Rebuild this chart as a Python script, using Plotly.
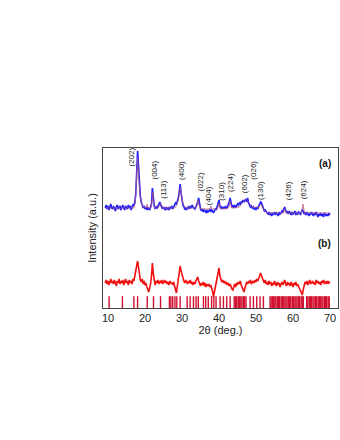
import plotly.graph_objects as go

# ---------------- data ----------------
two_theta_start = 9.25
two_theta_step = 0.25

# observed pattern (a), 9.25 .. 70.0 deg, 0.25 deg steps
obs = [
    100, 103, 99, 102, 98, 101, 104, 100,
    99, 102, 100, 97, 101, 103, 99, 101,
    102, 98, 100, 103, 100, 98, 102, 101,
    99, 103, 100, 102, 98, 101, 103, 102,
    106, 114, 135, 157, 142, 122, 111, 106,
    103, 100, 102, 99, 101, 98, 100, 99,
    98, 101, 104, 120, 108, 102, 99, 101,
    100, 102, 104, 106, 103, 100, 99, 101,
    100, 98, 101, 99, 100, 98, 101, 100,
    102, 99, 101, 103, 105, 104, 107, 110,
    116, 124, 115, 107, 103, 101, 99, 100,
    98, 100, 101, 99, 102, 100, 103, 101,
    100, 99, 101, 103, 106, 110, 103, 99,
    97, 99, 96, 98, 97, 95, 98, 96,
    97, 99, 96, 98, 97, 95, 97, 99,
    98, 101, 104, 108, 102, 100, 101, 99,
    101, 99, 102, 100, 101, 103, 106, 110,
    104, 101, 102, 100, 103, 101, 102, 104,
    103, 105, 104, 106, 105, 108, 106, 107,
    109, 106, 110, 105, 103, 101, 102, 100,
    101, 99, 100, 98, 101, 99, 102, 104,
    106, 105, 102, 99, 97, 98, 96, 95,
    94, 96, 93, 95, 92, 95, 94, 96,
    93, 95, 94, 92, 96, 94, 95, 97,
    96, 98, 101, 98, 95, 96, 94, 97,
    95, 93, 96, 94, 95, 97, 93, 95,
    94, 96, 95, 93, 96, 98, 97, 94,
    95, 93, 96, 94, 92, 95, 93, 96,
    94, 92, 95, 93, 96, 94, 91, 94,
    93, 95, 92, 94, 91, 95, 93, 92,
    94, 92, 95, 93,
]

# calculated profile (a)
calc_x = [9.25, 17.0, 17.4, 17.7, 18.0, 18.3, 18.6, 19.0, 19.5, 20.3,
          20.6, 20.9, 21.6, 21.9, 22.1, 22.3, 22.6, 23.6, 24.0, 24.2,
          24.4, 24.8, 28.0, 28.6, 29.0, 29.3, 29.6, 29.9, 30.3, 31.0,
          33.8, 34.2, 34.4, 34.6, 35.0, 37.5, 37.8, 38.1, 39.6, 40.0,
          40.4, 42.6, 43.0, 43.4, 45.5, 46.5, 47.2, 48.0, 48.8, 50.6,
          51.3, 52.0, 53.0, 57.4, 57.8, 58.2, 62.3, 62.7, 63.1, 70.0]
calc_y = [100, 100, 106, 125, 150, 132, 114, 105, 101, 100,
          104, 100, 100, 108, 116, 107, 100, 100, 104, 105,
          104, 100, 100, 103, 108, 115, 121, 112, 104, 100,
          100, 104, 108, 103, 99, 99, 102, 99, 99, 105,
          99, 100, 107, 100, 101, 106, 109, 106, 101, 100,
          104, 99, 95, 95, 99, 95, 95, 104, 95, 95]

# difference pattern (b), same grid as obs
diff = [
    25, 28, 24, 27, 23, 26, 29, 25,
    27, 24, 28, 25, 22, 27, 25, 29,
    24, 27, 25, 28, 23, 26, 29, 25,
    27, 23, 28, 25, 27, 24, 29, 27,
    31, 36, 42, 47, 40, 33, 28, 26,
    29, 24, 27, 23, 25, 21, 18, 16,
    20, 24, 32, 45, 34, 26, 23, 27,
    25, 28, 24, 27, 25, 28, 24, 26,
    28, 25, 27, 24, 26, 23, 27, 25,
    25, 23, 26, 22, 19, 15, 22, 30,
    35, 42, 37, 33, 30, 27, 25, 28,
    26, 24, 27, 25, 28, 24, 26, 23,
    26, 24, 27, 29, 31, 27, 24, 22,
    25, 23, 26, 22, 25, 21, 24, 22,
    24, 21, 23, 20, 17, 11, 16, 22,
    25, 30, 36, 40, 32, 28, 26, 28,
    25, 27, 24, 26, 23, 25, 22, 24,
    21, 19, 18, 22, 24, 21, 25, 23,
    26, 24, 27, 23, 21, 18, 16, 20,
    23, 26, 24, 27, 25, 28, 24, 26,
    27, 25, 28, 26, 29, 27, 30, 33,
    35, 32, 29, 27, 25, 28, 24, 26,
    23, 27, 24, 26, 22, 25, 23, 27,
    24, 22, 26, 23, 25, 21, 24, 26,
    23, 25, 28, 24, 22, 26, 23, 25,
    22, 26, 24, 21, 25, 23, 26, 22,
    24, 22, 20, 18, 15, 13, 18, 23,
    26, 24, 27, 23, 25, 28, 24, 26,
    27, 24, 26, 23, 28, 25, 27, 24,
    26, 23, 27, 25, 28, 24, 26, 25,
    27, 24, 26, 25,
]

# Bragg reflection positions
bragg = [10.3, 13.9, 17.0, 18.0, 20.6, 22.3, 24.2, 26.6, 27.0, 27.5,
         28.1, 28.6, 29.5, 31.4, 32.2, 33.1, 33.8, 34.4, 35.8, 36.4,
         37.1, 38.0, 38.6, 39.2, 40.3, 41.2, 42.1, 43.0, 44.1, 44.5,
         44.8, 45.2, 45.5, 45.9, 46.2, 46.6, 46.9, 47.3, 48.4, 49.3,
         50.2, 51.1, 52.0, 53.8, 54.1, 54.5, 54.8, 55.1, 55.4, 55.8,
         56.1, 56.4, 56.8, 57.1, 57.4, 57.8, 58.1, 58.4, 58.8, 59.1,
         59.4, 59.8, 60.1, 60.5, 60.8, 61.1, 61.5, 61.8, 62.2, 62.5,
         62.8, 63.7, 64.0, 64.4, 64.7, 65.0, 65.4, 65.7, 66.1, 66.4,
         66.8, 67.1, 67.4, 67.8, 68.1, 68.5, 68.8, 69.1, 69.5, 69.8]

# hkl labels
hkl_text = ["(202)", "(004)", "(113)", "(400)", "(022)", "(404)", "(310)",
            "(224)", "(602)", "(026)", "(130)", "(426)", "(624)"]
hkl_x = [16.1, 22.3, 24.8, 29.7, 34.9, 37.1, 40.5, 43.0, 46.8, 49.1, 51.1, 58.7, 62.8]
hkl_y = [151, 138, 118, 138, 126, 112, 117, 125, 124, 138, 117, 117, 118]

x_ticks = [10, 20, 30, 40, 50, 60, 70]

# ---------------- figure ----------------
grid = [two_theta_start + two_theta_step * i for i in range(len(obs))]
grid_d = [two_theta_start + two_theta_step * i for i in range(len(diff))]

FONT = "Arial, Liberation Sans, sans-serif"
fig = go.Figure()

fig.add_trace(go.Scatter(x=grid, y=obs, mode="lines",
                         line=dict(color="#1f1fff", width=1.6), hoverinfo="skip"))
fig.add_trace(go.Scatter(x=calc_x, y=calc_y, mode="lines",
                         line=dict(color="#b5577e", width=1), opacity=0.8, hoverinfo="skip"))
fig.add_trace(go.Scatter(x=grid_d, y=diff, mode="lines",
                         line=dict(color="#f01010", width=1.6), hoverinfo="skip"))
fig.add_trace(go.Scatter(x=bragg, y=[5.5] * len(bragg), mode="markers",
                         marker=dict(symbol="line-ns", size=9,
                                     line=dict(color="#d0102e", width=1.4)),
                         hoverinfo="skip"))

for t, xv, yv in zip(hkl_text, hkl_x, hkl_y):
    fig.add_annotation(x=xv, y=yv, text=t, textangle=-90, showarrow=False,
                       font=dict(family=FONT, size=8, color="#222222"))

fig.add_annotation(x=68.6, y=145, text="<b>(a)</b>", showarrow=False,
                   font=dict(family=FONT, size=10, color="#111111"))
fig.add_annotation(x=68.6, y=65, text="<b>(b)</b>", showarrow=False,
                   font=dict(family=FONT, size=10, color="#111111"))

fig.update_layout(
    width=340, height=440,
    margin=dict(l=103, r=2, t=148, b=132),
    paper_bgcolor="white", plot_bgcolor="white",
    showlegend=False,
    font=dict(family=FONT, color="#222222"),
)
fig.update_xaxes(range=[8.65, 72.16], tickvals=x_ticks, ticks="",
                 showgrid=False, zeroline=False, showline=True, mirror=True,
                 linecolor="#444444", linewidth=1,
                 tickfont=dict(size=11, color="#222222"),
                 title=dict(text="2θ (deg.)", font=dict(size=11, color="#222222"), standoff=2))
fig.update_yaxes(range=[0, 160], showticklabels=False, ticks="",
                 showgrid=False, zeroline=False, showline=True, mirror=True,
                 linecolor="#444444", linewidth=1,
                 title=dict(text="Intensity (a.u.)", font=dict(size=11, color="#222222"), standoff=3))

fig.write_html(
    "out.html",
    config={"displayModeBar": False},
    post_script="document.body.style.margin='0';document.body.style.overflow='hidden';",
)
